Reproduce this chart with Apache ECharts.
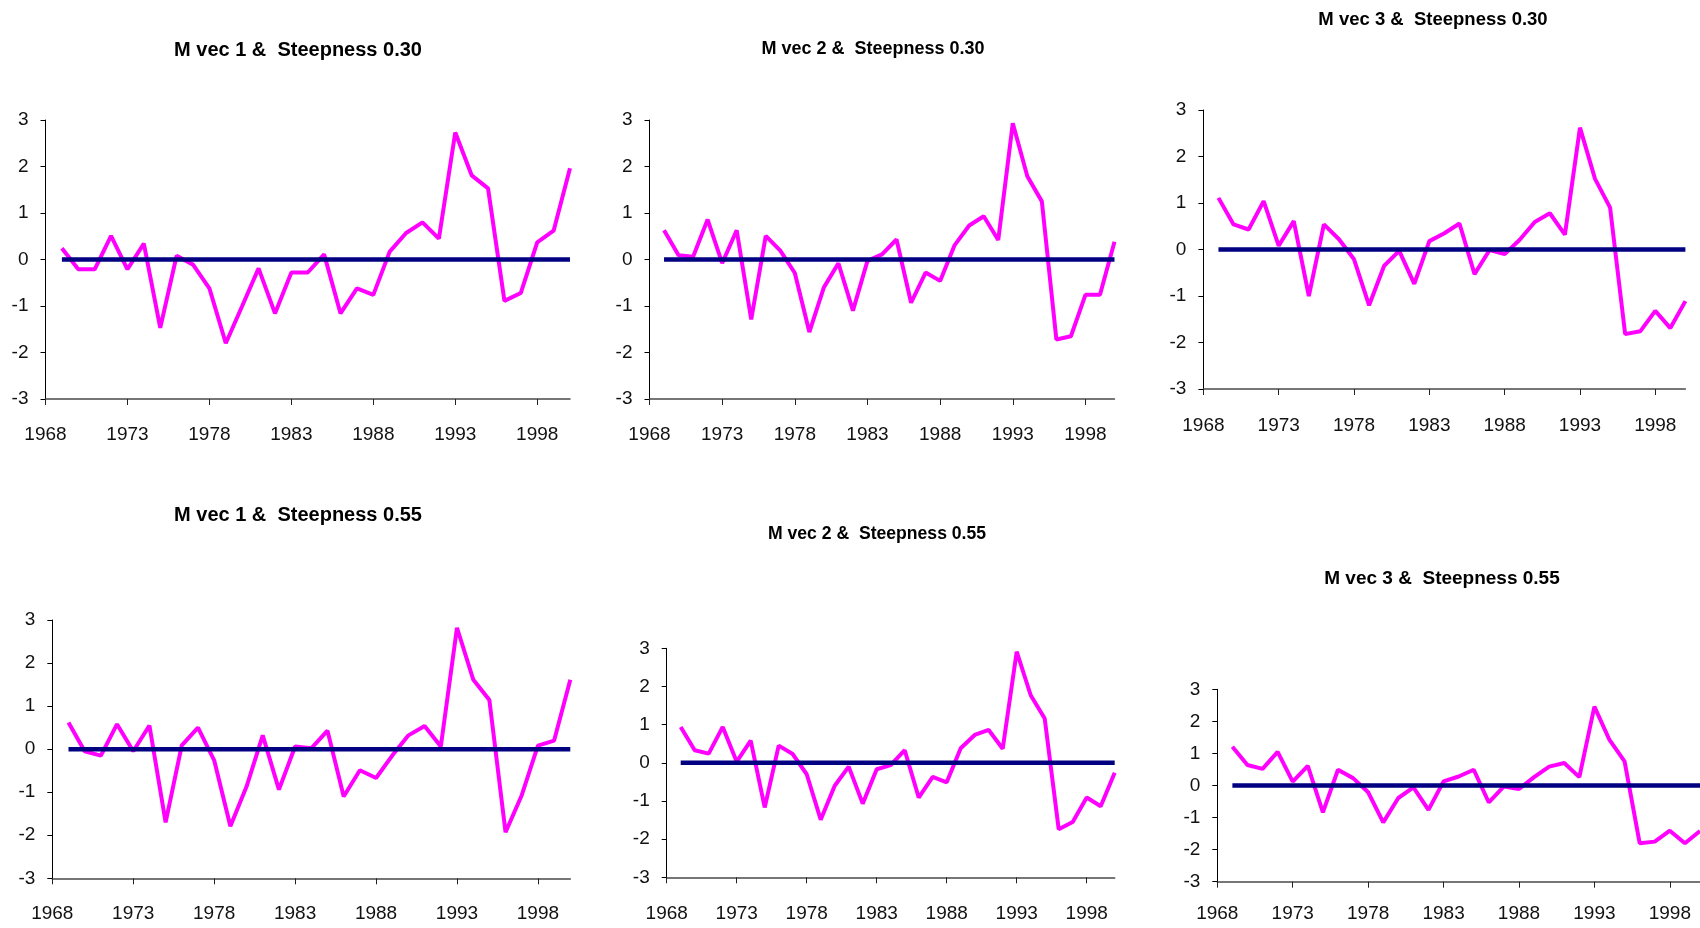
<!DOCTYPE html>
<html>
<head>
<meta charset="utf-8">
<title>M vec & Steepness</title>
<script src="https://cdn.jsdelivr.net/npm/echarts/dist/echarts.min.js"></script>
<style>
  html, body { margin: 0; padding: 0; background: #ffffff; }
  #chart { width: 1700px; height: 928px; }
</style>
</head>
<body>
<div id="chart"></div>
<script>
// Years of the series (one value per year)
const years = [1969, 1970, 1971, 1972, 1973, 1974, 1975, 1976, 1977, 1978,
               1979, 1980, 1981, 1982, 1983, 1984, 1985, 1986, 1987, 1988,
               1989, 1990, 1991, 1992, 1993, 1994, 1995, 1996, 1997, 1998,
               1999, 2000];

// Year tick labels on the horizontal axes
const xTickYears = [1968, 1973, 1978, 1983, 1988, 1993, 1998];

// Panel titles
const titles = [
  'M vec 1 &  Steepness 0.30',
  'M vec 2 &  Steepness 0.30',
  'M vec 3 &  Steepness 0.30',
  'M vec 1 &  Steepness 0.55',
  'M vec 2 &  Steepness 0.55',
  'M vec 3 &  Steepness 0.55'
];

// Series values, one array per panel
const mvec1Steep030 = [0.24, -0.21, -0.21, 0.51, -0.21, 0.34, -1.47, 0.08, -0.11, -0.62,
                       -1.80, -1.00, -0.19, -1.16, -0.28, -0.28, 0.11, -1.16, -0.62, -0.76,
                       0.17, 0.57, 0.80, 0.45, 2.73, 1.81, 1.53, -0.89, -0.72, 0.37,
                       0.62, 1.96];
const mvec2Steep030 = [0.63, 0.09, 0.06, 0.86, -0.08, 0.63, -1.29, 0.51, 0.19, -0.29,
                       -1.56, -0.60, -0.08, -1.10, -0.03, 0.11, 0.43, -0.93, -0.28, -0.46,
                       0.31, 0.73, 0.93, 0.42, 2.93, 1.79, 1.25, -1.72, -1.65, -0.76,
                       -0.76, 0.38];
const mvec3Steep030 = [1.11, 0.54, 0.43, 1.04, 0.08, 0.61, -1.00, 0.54, 0.22, -0.21,
                       -1.20, -0.35, -0.03, -0.74, 0.18, 0.35, 0.56, -0.53, -0.01, -0.10,
                       0.21, 0.59, 0.78, 0.32, 2.62, 1.52, 0.90, -1.82, -1.76, -1.32,
                       -1.69, -1.11];
const mvec1Steep055 = [0.62, -0.05, -0.15, 0.58, -0.05, 0.55, -1.70, 0.09, 0.50, -0.26,
                       -1.79, -0.87, 0.32, -0.94, 0.06, 0.02, 0.43, -1.10, -0.49, -0.67,
                       -0.15, 0.32, 0.54, 0.06, 2.82, 1.62, 1.14, -1.93, -1.07, 0.08,
                       0.20, 1.61];
const mvec2Steep055 = [0.94, 0.33, 0.24, 0.94, 0.03, 0.58, -1.17, 0.45, 0.23, -0.30,
                       -1.49, -0.60, -0.10, -1.07, -0.17, -0.06, 0.33, -0.91, -0.37, -0.51,
                       0.38, 0.73, 0.86, 0.37, 2.91, 1.77, 1.16, -1.74, -1.55, -0.91,
                       -1.14, -0.26];
const mvec3Steep055 = [1.21, 0.64, 0.52, 1.05, 0.12, 0.61, -0.84, 0.49, 0.23, -0.21,
                       -1.15, -0.39, -0.06, -0.76, 0.13, 0.28, 0.49, -0.53, -0.03, -0.11,
                       0.26, 0.59, 0.70, 0.26, 2.46, 1.42, 0.75, -1.80, -1.75, -1.41,
                       -1.80, -1.42];

// Reference level drawn across every panel
const baseline = [0, 0, 0, 0, 0, 0, 0, 0, 0, 0, 0, 0, 0, 0, 0, 0,
                  0, 0, 0, 0, 0, 0, 0, 0, 0, 0, 0, 0, 0, 0, 0, 0];

const panelSeries = [mvec1Steep030, mvec2Steep030, mvec3Steep030,
                     mvec1Steep055, mvec2Steep055, mvec3Steep055];

// Plot-area placement of each panel (pixels) and title placement
const layout = [
  { left: 45.5,   top: 120,   width: 524.5, height: 279,   tx: 298,  ty: 50,  tsize: 20,   xMargin: 26 },
  { left: 649.5,  top: 120,   width: 465,   height: 279,   tx: 873,  ty: 49,  tsize: 18,   xMargin: 26 },
  { left: 1203.4, top: 110,   width: 482,   height: 279,   tx: 1433, ty: 20,  tsize: 18.5, xMargin: 27 },
  { left: 52.3,   top: 620,   width: 518,   height: 258.3, tx: 298,  ty: 515, tsize: 20,   xMargin: 26 },
  { left: 666.7,  top: 648.3, width: 448,   height: 229,   tx: 877,  ty: 534, tsize: 17.6, xMargin: 27 },
  { left: 1217.3, top: 689.3, width: 484.3, height: 192.4, tx: 1442, ty: 579, tsize: 19,   xMargin: 23 }
];

const FONT = "'Liberation Sans', Arial, Helvetica, sans-serif";

const pairs = (vals) => years.map((y, i) => [y, vals[i]]);

const option = {
  backgroundColor: '#ffffff',
  animation: false,
  title: [],
  grid: [],
  xAxis: [],
  yAxis: [],
  series: []
};

layout.forEach((p, i) => {
  option.title.push({
    text: titles[i],
    left: p.tx,
    top: p.ty,
    textAlign: 'center',
    textVerticalAlign: 'middle',
    padding: 0,
    textStyle: { fontFamily: FONT, fontWeight: 'bold', fontSize: p.tsize, color: '#000000' }
  });
  option.grid.push({
    left: p.left, top: p.top, width: p.width, height: p.height,
    containLabel: false
  });
  option.xAxis.push({
    type: 'value',
    gridIndex: i,
    min: 1968,
    max: 2000,
    position: 'bottom',
    splitLine: { show: false },
    axisLine: { show: true, onZero: false, lineStyle: { color: '#4a4a4a', width: 1.5 } },
    axisTick: { show: true, customValues: xTickYears, length: 6, inside: false,
                lineStyle: { color: '#222222', width: 1 } },
    axisLabel: {
      customValues: xTickYears,
      formatter: (v) => String(v),
      fontFamily: FONT, fontSize: 19, color: '#111111', margin: p.xMargin
    }
  });
  option.yAxis.push({
    type: 'value',
    gridIndex: i,
    min: -3,
    max: 3,
    interval: 1,
    splitLine: { show: false },
    axisLine: { show: true, onZero: false, lineStyle: { color: '#000000', width: 1 } },
    axisTick: { show: true, length: 5, inside: false, lineStyle: { color: '#000000', width: 1 } },
    axisLabel: { fontFamily: FONT, fontSize: 19, color: '#111111', margin: 17 }
  });
  option.series.push({
    type: 'line',
    xAxisIndex: i,
    yAxisIndex: i,
    data: pairs(panelSeries[i]),
    showSymbol: false,
    symbol: 'none',
    lineStyle: { color: '#ff00ff', width: 4 },
    z: 2
  });
  option.series.push({
    type: 'line',
    xAxisIndex: i,
    yAxisIndex: i,
    data: pairs(baseline),
    showSymbol: false,
    symbol: 'none',
    lineStyle: { color: '#000080', width: 4.5 },
    z: 3
  });
});

const chart = echarts.init(document.getElementById('chart'), null, { renderer: 'canvas' });
chart.setOption(option);
</script>
</body>
</html>
